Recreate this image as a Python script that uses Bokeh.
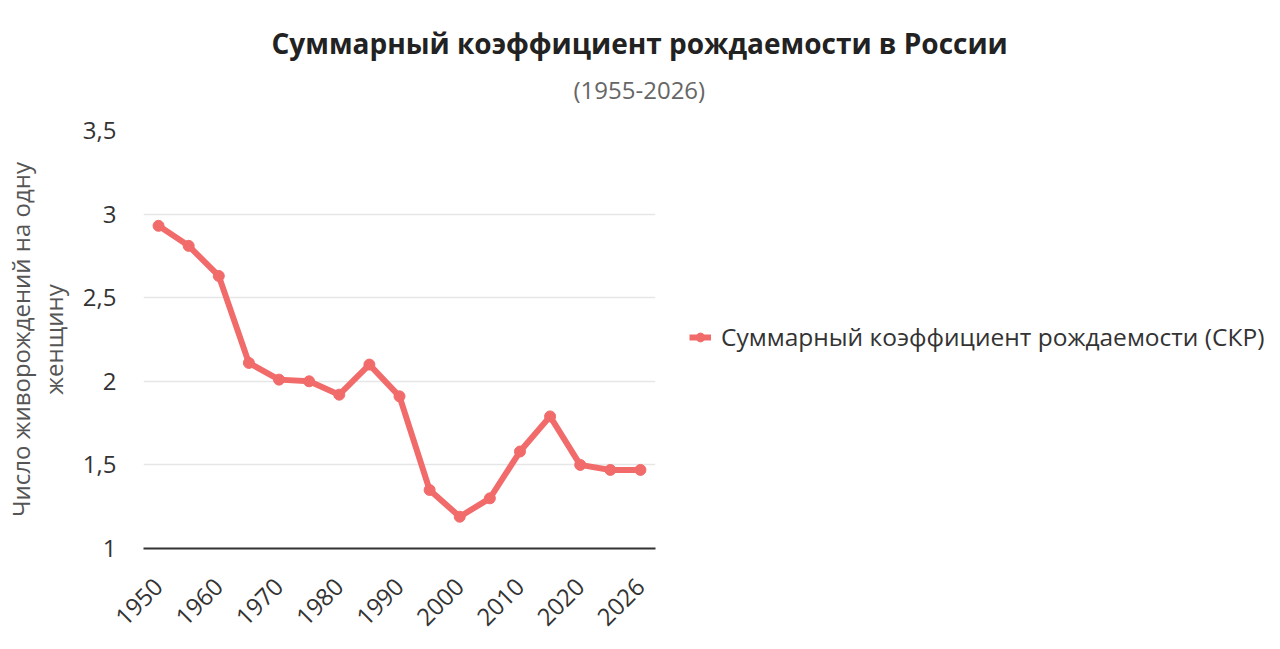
from bokeh.plotting import figure
from bokeh.models import Title, Legend, LegendItem, Range1d, FixedTicker
from bokeh.embed import file_html
from bokeh.resources import INLINE

years = ["1950", "1955", "1960", "1965", "1970", "1975", "1980", "1985", "1990",
         "1995", "2000", "2005", "2010", "2015", "2020", "2025", "2026"]
tfr = [2.93, 2.81, 2.63, 2.11, 2.01, 2.00, 1.92, 2.10, 1.91,
       1.35, 1.19, 1.30, 1.58, 1.79, 1.50, 1.47, 1.47]
shown_years = ["1950", "1960", "1970", "1980", "1990", "2000", "2010", "2020", "2026"]
y_ticks = [1, 1.5, 2, 2.5, 3, 3.5]
y_tick_labels = ["1", "1,5", "2", "2,5", "3", "3,5"]
title_text = "Суммарный коэффициент рождаемости в России"
subtitle_text = "(1955-2026)"
series_name = "Суммарный коэффициент рождаемости (СКР)"

FONT = "Open Sans"
COLOR = "#F26B6B"

xpos = list(range(len(years)))

p = figure(x_range=Range1d(-0.5, len(years) - 0.5), y_range=Range1d(1, 3.5),
           frame_width=512, frame_height=418, output_backend="svg",
           toolbar_location=None, min_border_left=136, min_border_right=616,
           min_border_bottom=84, min_border_top=130)
p.outline_line_color = None

# titles stack outward from the frame: spacer, subtitle, title
p.add_layout(Title(text=" ", text_font_size="1px", standoff=12), "above")
p.add_layout(Title(text=subtitle_text, align="left", offset=430,
                   text_font=FONT, text_font_size="24px", text_font_style="normal",
                   text_color="#666666", standoff=19), "above")
p.add_layout(Title(text=title_text, align="left", offset=128,
                   text_font=FONT, text_font_size="28px", text_font_style="bold",
                   text_color="#222222", standoff=0), "above")

ln = p.line(xpos, tfr, line_color=COLOR, line_width=6, line_join="round")
sc = p.scatter(xpos, tfr, size=11, fill_color=COLOR, line_color=COLOR)

# y axis
p.yaxis.ticker = FixedTicker(ticks=y_ticks)
p.yaxis.major_label_overrides = {t: l for t, l in zip(y_ticks, y_tick_labels)}
p.yaxis.axis_line_color = None
p.yaxis.major_tick_line_color = None
p.yaxis.minor_tick_line_color = None
p.yaxis.major_label_text_font = FONT
p.yaxis.major_label_text_font_size = "24px"
p.yaxis.major_label_text_color = "#333333"
p.yaxis.major_label_standoff = 21
p.yaxis.axis_label = "Число живорождений на одну\nженщину"
p.yaxis.axis_label_text_font = FONT
p.yaxis.axis_label_text_font_size = "24px"
p.yaxis.axis_label_text_font_style = "normal"
p.yaxis.axis_label_text_color = "#555555"
p.yaxis.axis_label_text_line_height = 1.0
p.yaxis.axis_label_standoff = 10

p.ygrid.grid_line_color = "#e6e6e6"
p.ygrid.grid_line_width = 1.5
p.xgrid.grid_line_color = None

# x axis
shown_idx = [years.index(y) for y in shown_years]
p.xaxis.ticker = FixedTicker(ticks=shown_idx)
p.xaxis.major_label_overrides = {i: years[i] for i in shown_idx}
p.xaxis.axis_line_color = "#333333"
p.xaxis.axis_line_width = 2
p.xaxis.major_tick_line_color = None
p.xaxis.minor_tick_line_color = None
p.xaxis.major_label_orientation = 0.785
p.xaxis.major_label_text_font = FONT
p.xaxis.major_label_text_font_size = "24px"
p.xaxis.major_label_text_color = "#333333"
p.xaxis.major_label_standoff = 28

legend = Legend(items=[LegendItem(label=series_name, renderers=[ln, sc])],
                location=(34, 195), border_line_color=None, background_fill_alpha=0,
                label_text_font=FONT, label_text_font_size="24.5px", label_text_color="#333333",
                glyph_width=22, glyph_height=24, label_standoff=10, margin=0, padding=0)
p.add_layout(legend, "right")

open("out.html", "w").write(file_html(p, INLINE))
